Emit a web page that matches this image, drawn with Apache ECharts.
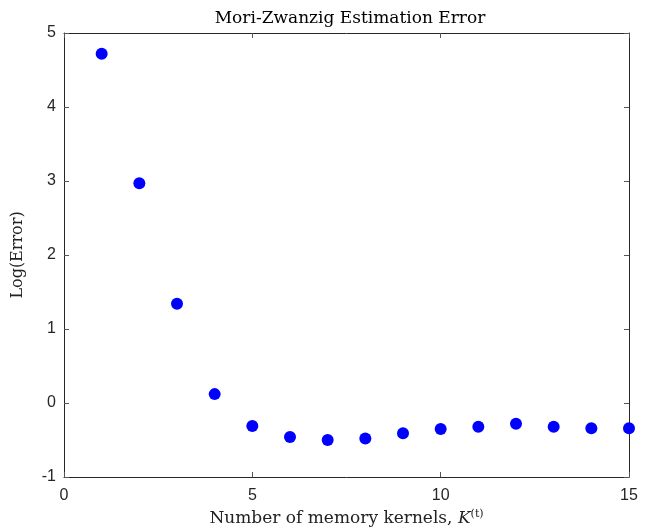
<!DOCTYPE html>
<html>
<head>
<meta charset="utf-8">
<script src="https://cdn.jsdelivr.net/npm/echarts@6/dist/echarts.min.js"></script>
<style>
  html, body { margin: 0; padding: 0; background: #fff; }
  #chart { width: 649px; height: 531px; }
</style>
</head>
<body>
<div id="chart"></div>
<script>
// memory kernel counts and log error values
var kernels = [1, 2, 3, 4, 5, 6, 7, 8, 9, 10, 11, 12, 13, 14, 15];
var logError = [4.72, 2.97, 1.34, 0.12, -0.31, -0.46, -0.50, -0.48, -0.41, -0.35, -0.32, -0.28, -0.32, -0.34, -0.34];

var serif = '"DejaVu Serif", "Liberation Serif", serif';
var sans = '"Liberation Sans", Arial, sans-serif';
var axisCol = '#262626';

var points = kernels.map(function (k, i) { return [k, logError[i]]; });

var chart = echarts.init(document.getElementById('chart'));

function boxAxis(base) {
    // plain axis styled like a MATLAB box edge
    return Object.assign({
        axisLine: { show: true, onZero: false, lineStyle: { color: axisCol, width: 1 } },
        axisTick: { show: true, inside: true, length: 5, lineStyle: { color: '#555' } },
        splitLine: { show: false }
    }, base);
}

chart.setOption({
    backgroundColor: '#fff',
    animation: false,
    title: {
        text: 'Mori-Zwanzig Estimation Error',
        left: 345, top: 5, textAlign: 'center',
        textStyle: { fontFamily: serif, fontSize: 17, fontWeight: 'normal', color: '#000' }
    },
    grid: { left: 64, right: 20, top: 33, bottom: 54, outerBoundsMode: 'none', containLabel: false },
    xAxis: [
        boxAxis({
            type: 'value', min: 0, max: 15, interval: 5,
            axisLabel: { fontFamily: sans, fontSize: 16, color: axisCol, margin: 11 },
            name: '{a|Number of memory kernels, }{k|K}{s|(t)}',
            nameLocation: 'middle', nameGap: 32,
            nameTextStyle: {
                rich: {
                    a: { fontFamily: serif, fontSize: 17, color: '#222' },
                    k: { fontFamily: serif, fontSize: 17, fontStyle: 'italic', color: '#222' },
                    s: { fontFamily: serif, fontSize: 11, color: '#222', verticalAlign: 'top', padding: [0, 0, 9, 0] }
                }
            }
        }),
        boxAxis({
            type: 'value', min: 0, max: 15, interval: 5, position: 'top',
            axisLabel: { show: false }
        })
    ],
    yAxis: [
        boxAxis({
            type: 'value', min: -1, max: 5, interval: 1,
            axisLabel: { fontFamily: sans, fontSize: 16, color: axisCol, margin: 8 },
            name: 'Log(Error)', nameLocation: 'middle', nameGap: 38,
            nameTextStyle: { fontFamily: serif, fontSize: 16, color: '#222' }
        }),
        boxAxis({
            type: 'value', min: -1, max: 5, interval: 1, position: 'right',
            axisLabel: { show: false }
        })
    ],
    series: [{
        type: 'scatter',
        data: points,
        symbol: 'circle',
        symbolSize: 12,
        itemStyle: { color: '#0000ff', opacity: 1 },
        clip: false
    }]
});
</script>
</body>
</html>
